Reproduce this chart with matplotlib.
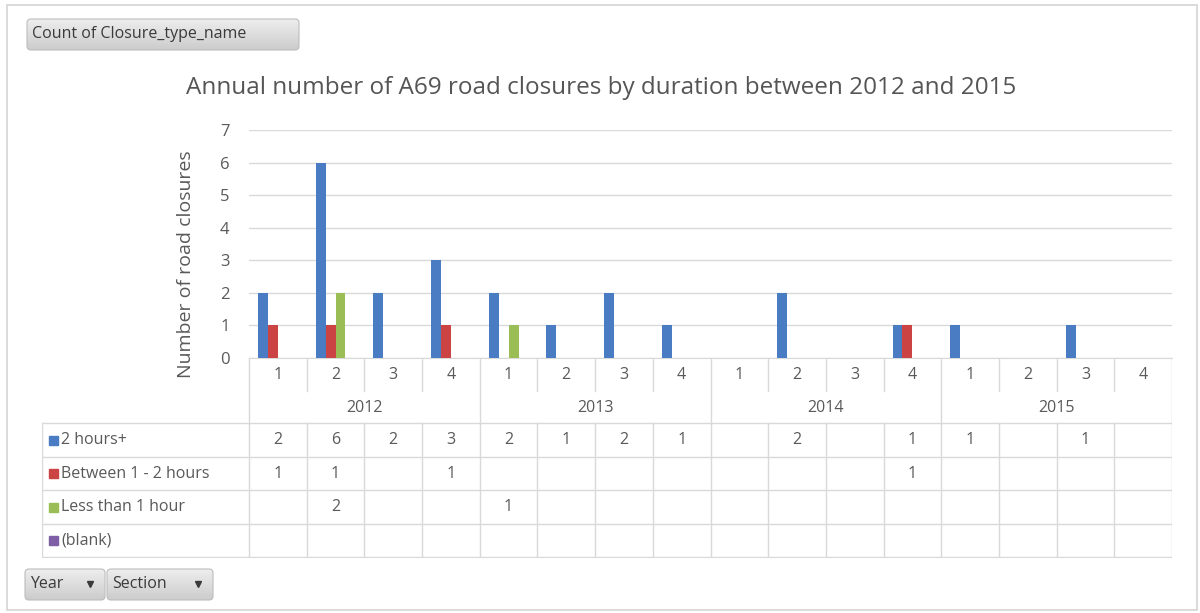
import numpy as np
import matplotlib
matplotlib.use("Agg")
import matplotlib.pyplot as plt
from matplotlib.patches import FancyBboxPatch, Rectangle

plt.rcParams['font.family'] = ['Open Sans', 'DejaVu Sans']

# pivot data: closures per year / section
years = ['2012', '2013', '2014', '2015']
sections = ['1', '2', '3', '4']
series_names = ['2 hours+', 'Between 1 - 2 hours', 'Less than 1 hour', '(blank)']
series_colors = ['#4A7CC4', '#CB4443', '#9ABD55', '#7E5FA6']

hours_2plus = [2, 6, 2, 3, 2, 1, 2, 1, None, 2, None, 1, 1, None, 1, None]
between_1_2 = [1, 1, None, 1, None, None, None, None, None, None, None, 1, None, None, None, None]
less_1 = [None, 2, None, None, 1, None, None, None, None, None, None, None, None, None, None, None]
blank = [None] * 16

series = [hours_2plus, between_1_2, less_1, blank]

W, H = 1200, 613
TXT = '#595959'
GRID = '#D9D9D9'


def fr(x0, y0, x1, y1):
    return [x0 / W, 1 - y1 / H, (x1 - x0) / W, (y1 - y0) / H]


fig = plt.figure(figsize=(W / 100, H / 100), dpi=100)

# background layer in pixel units for frame and pivot buttons
bg = fig.add_axes([0, 0, 1, 1], zorder=-5)
bg.set_xlim(0, W)
bg.set_ylim(H, 0)
bg.axis('off')
bg.add_patch(Rectangle((7, 5), 1190, 605, fill=False, ec='#D4D4D4', lw=1.2))

grad = np.linspace(0.93, 0.80, 50).reshape(-1, 1)


def button(x0, y0, x1, y1, label, arrow_x=None):
    box = FancyBboxPatch((x0, y0), x1 - x0, y1 - y0,
                         boxstyle='round,pad=0,rounding_size=4',
                         fc='none', ec='#BDBDBD', lw=0.8)
    bg.add_patch(box)
    im = bg.imshow(grad, cmap='gray', vmin=0, vmax=1, aspect='auto',
                   extent=(x0, x1, y1, y0), zorder=0)
    im.set_clip_path(box)
    bg.text(x0 + 5, (y0 + y1) / 2, label, fontsize=11.5, color='#3A3A3A',
            va='center', ha='left')
    if arrow_x is not None:
        bg.plot(arrow_x, (y0 + y1) / 2 - 1, marker='v', ms=4.5, color='#3A3A3A')


button(27, 19, 299, 50, 'Count of Closure_type_name')
button(25, 569, 105, 600, 'Year', 90)
button(107, 569, 213, 600, 'Section', 198)
bg.set_xlim(0, W)
bg.set_ylim(H, 0)

# main clustered column chart
ax = fig.add_axes(fr(249, 130, 1172, 358))
n = len(hours_2plus)
x = np.arange(n)
width = 0.172
for i, (vals, color) in enumerate(zip(series, series_colors)):
    h = np.array([np.nan if v is None else v for v in vals], dtype=float)
    ax.bar(x + 0.5 + (i - 1.5) * width, h, width, color=color, zorder=3)

ax.set_xlim(0, n)
ax.set_ylim(0, 7)
ax.set_yticks(range(8))
ax.set_yticklabels([str(v) for v in range(8)], fontsize=12, color=TXT)
ax.tick_params(axis='y', length=0, pad=14)
ax.set_xticks([])
ax.grid(axis='y', color=GRID, lw=1)
for s in ['top', 'right', 'left']:
    ax.spines[s].set_visible(False)
ax.spines['bottom'].set_color(GRID)
ax.set_ylabel('Number of road closures', fontsize=14, color=TXT)
ax.yaxis.set_label_coords(-0.058, 0.41)
fig.text(601 / W, 1 - 88 / H, 'Annual number of A69 road closures by duration between 2012 and 2015',
         ha='center', va='center', fontsize=17.5, color='#555555')

# data table underneath, sharing the category scale
px_per_cat = (1172 - 249) / n
tb = fig.add_axes(fr(42, 358, 1172, 558))
tb.set_xlim(-(249 - 42) / px_per_cat, n)
tb.set_ylim(558, 358)
tb.axis('off')

row_lines = [423, 457, 490, 524, 557]
row_mid = [(a + b) / 2 for a, b in zip(row_lines[:-1], row_lines[1:])]
left = tb.get_xlim()[0]

for y in row_lines:
    tb.plot([left, n], [y, y], color=GRID, lw=1)
tb.plot([left, left], [423, 557], color=GRID, lw=1)
for k in range(n + 1):
    if k % 4 == 0:
        tb.plot([k, k], [358, 557], color=GRID, lw=1)
    else:
        tb.plot([k, k], [358, 391], color=GRID, lw=1)
        tb.plot([k, k], [423, 557], color=GRID, lw=1)

for k in range(n):
    tb.text(k + 0.5, 375, sections[k % 4], ha='center', va='center',
            fontsize=11.5, color=TXT)
for j, yr in enumerate(years):
    tb.text(j * 4 + 2, 408, yr, ha='center', va='center', fontsize=11.5, color=TXT)

sq = 9 / px_per_cat
for r, (name, vals, color) in enumerate(zip(series_names, series, series_colors)):
    ym = row_mid[r]
    tb.add_patch(Rectangle((left + 7 / px_per_cat, ym - 4.5), sq, 9, color=color))
    tb.text(left + 19 / px_per_cat, ym, name, ha='left', va='center',
            fontsize=11.5, color=TXT)
    for k, v in enumerate(vals):
        if v is not None:
            tb.text(k + 0.5, ym, str(v), ha='center', va='center',
                    fontsize=11.5, color=TXT)

fig.savefig('out.png', dpi=100)
